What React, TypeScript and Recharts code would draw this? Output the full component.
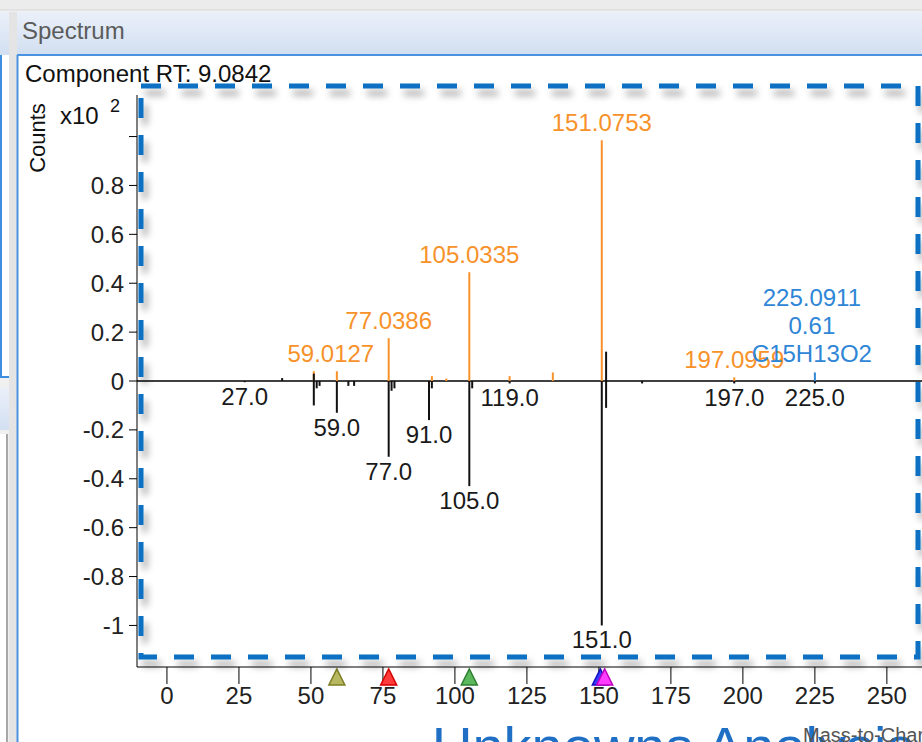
import { ComposedChart, XAxis, YAxis, ReferenceLine, ReferenceDot, Scatter } from 'recharts';

const xTicks = [0, 25, 50, 75, 100, 125, 150, 175, 200, 225, 250];
const yTicks = [-1, -0.8, -0.6, -0.4, -0.2, 0, 0.2, 0.4, 0.6, 0.8, 1];

// acquired spectrum (orange, above zero)
const sampleMz = [51, 59, 77, 92, 97, 105, 119, 134, 151, 197];
const sampleCounts = [0.04, 0.04, 0.175, 0.02, 0.01, 0.445, 0.02, 0.035, 0.985, 0.015];

// molecular ion (blue)
const ionMz = [225];
const ionCounts = [0.035];
const ionText = ['225.0911', '0.61', 'C15H13O2'];

// library spectrum (black, mirrored)
const libMz = [27, 40, 51, 51, 52, 53, 59, 63, 65, 77, 78, 79, 91, 92, 105, 106, 119, 151, 152, 152, 165, 197, 225];
const libCounts = [-0.005, 0.012, -0.1, 0.03, -0.03, -0.02, -0.13, -0.02, -0.02, -0.31, -0.04, -0.03, -0.16, -0.03, -0.43, -0.03, -0.01, -1.0, 0.12, -0.11, -0.01, -0.01, -0.01];

const topLabelMz = [59, 77, 105, 151, 197];
const topLabelCounts = [0.04, 0.175, 0.445, 0.985, 0.015];
const topLabelText = ['59.0127', '77.0386', '105.0335', '151.0753', '197.0959'];

const bottomLabelMz = [27, 59, 77, 91, 105, 119, 151, 197, 225];
const bottomLabelCounts = [-0.005, -0.13, -0.31, -0.16, -0.43, -0.01, -1.0, -0.01, -0.01];
const bottomLabelText = ['27.0', '59.0', '77.0', '91.0', '105.0', '119.0', '151.0', '197.0', '225.0'];

// precursor markers under the axis
const markerMz = [59, 77, 105, 150.5, 152];
const MARKER_FILL = ['#b8b860', '#ff3b3b', '#5cb85c', '#3a3aff', '#ff3cff'];
const MARKER_STROKE = ['#7d7d25', '#d40000', '#2e7d32', '#1010c0', '#c000c0'];

const ORANGE = '#f7922a';
const BLUE = '#2f86d6';
const FONT = '"Liberation Sans", Arial, sans-serif';

const tips = sampleMz.map((mz, i) => ({ mz, counts: sampleCounts[i] }));

const fmtY = (v: number) => (v === 1 ? '' : v === 0 ? '0' : v === -1 ? '-1' : v.toFixed(1));

export default function App() {
  return (
    <div style={{ position: 'absolute', left: 0, top: 0, width: 922, height: 742, overflow: 'hidden', background: '#f0f0f0', fontFamily: FONT }}>
      <svg width={922} height={742} style={{ position: 'absolute', left: 0, top: 0 }}>
        <defs>
          <linearGradient id="hdr" x1="0" y1="0" x2="0" y2="1">
            <stop offset="0" stopColor="#eaf0f9" />
            <stop offset="1" stopColor="#d2dff1" />
          </linearGradient>
        </defs>
        <rect x={0} y={0} width={922} height={10} fill="#ececec" />
        <line x1={0} y1={10} x2={922} y2={10} stroke="#d8d8d8" />
        {/* left panel */}
        <rect x={0} y={12} width={9} height={43} fill="url(#hdr)" />
        <rect x={0} y={55} width={9} height={322} fill="#fff" />
        <line x1={1} y1={55} x2={1} y2={377} stroke="#3d8de0" strokeWidth={2} />
        <line x1={0} y1={377} x2={9} y2={377} stroke="#3d8de0" strokeWidth={2} />
        <rect x={0} y={388} width={9} height={42} fill="url(#hdr)" />
        <rect x={0} y={434} width={8} height={308} fill="#fff" />
        <line x1={7} y1={434} x2={7} y2={742} stroke="#8a8a8a" strokeWidth={1.5} />
        {/* splitter */}
        <rect x={9} y={12} width={8} height={730} fill="#e4e4e4" />
        {/* main panel */}
        <rect x={17} y={12} width={905} height={42} fill="url(#hdr)" />
        <text x={22} y={39} fontSize={24} fill="#5b5b5b" fontFamily={FONT}>Spectrum</text>
        <rect x={18} y={56} width={904} height={686} fill="#fff" />
        <line x1={17} y1={55} x2={922} y2={55} stroke="#4a92e2" strokeWidth={2} />
        <line x1={17.5} y1={55} x2={17.5} y2={742} stroke="#4a92e2" strokeWidth={2} />
        <text x={25} y={82} fontSize={24} fill="#111" fontFamily={FONT}>Component RT: 9.0842</text>
        <text x={60} y={124} fontSize={24} fill="#111" fontFamily={FONT}>x10</text>
        <text x={110} y={112} fontSize={18} fill="#111" fontFamily={FONT}>2</text>
        <text transform="translate(45,138) rotate(-90)" textAnchor="middle" fontSize={22} fill="#111" fontFamily={FONT}>Counts</text>
      </svg>

      <div style={{ position: 'absolute', left: 0, top: 0 }}>
        <ComposedChart width={922} height={742} data={tips} margin={{ top: 95, right: 0, bottom: 0, left: 77 }}>
          <XAxis
            type="number"
            dataKey="mz"
            domain={[-10.4, 262.2]}
            allowDataOverflow
            ticks={xTicks}
            interval={0}
            height={75}
            tickSize={17}
            tickMargin={3}
            stroke="#000"
            tick={{ fill: '#222', fontSize: 24, fontFamily: FONT }}
          />
          <YAxis
            type="number"
            domain={[-1.17, 1.17]}
            allowDataOverflow
            ticks={yTicks}
            interval={0}
            width={60}
            tickSize={8}
            tickMargin={5}
            tickFormatter={fmtY}
            stroke="#000"
            tick={{ fill: '#222', fontSize: 24, fontFamily: FONT }}
          />
          <ReferenceLine y={0} stroke="#000" strokeWidth={1.5} />
          {sampleMz.map((mz, i) => (
            <ReferenceLine key={'s' + i} segment={[{ x: mz, y: 0 }, { x: mz, y: sampleCounts[i] }]} stroke={ORANGE} strokeWidth={2} />
          ))}
          {ionMz.map((mz, i) => (
            <ReferenceLine key={'b' + i} segment={[{ x: mz, y: 0 }, { x: mz, y: ionCounts[i] }]} stroke={BLUE} strokeWidth={2} />
          ))}
          {libMz.map((mz, i) => (
            <ReferenceLine key={'l' + i} segment={[{ x: mz + (i === 18 || i === 19 ? 0.5 : 0), y: 0 }, { x: mz + (i === 18 || i === 19 ? 0.5 : 0), y: libCounts[i] }]} stroke="#111" strokeWidth={2} />
          ))}
          {topLabelMz.map((mz, i) => (
            <ReferenceDot
              key={'tl' + i}
              x={mz}
              y={topLabelCounts[i]}
              ifOverflow="visible"
              shape={(p: any) => (
                <text x={p.cx - (i === 0 ? 6 : 0)} y={p.cy - 9} textAnchor="middle" fontSize={24} fill={ORANGE} fontFamily={FONT}>{topLabelText[i]}</text>
              )}
            />
          ))}
          {ionMz.map((mz, i) => (
            <ReferenceDot
              key={'il' + i}
              x={mz}
              y={ionCounts[i]}
              ifOverflow="visible"
              shape={(p: any) => (
                <g>
                  {ionText.map((t, j) => (
                    <text key={j} x={p.cx - 3} y={p.cy - 10 - (ionText.length - 1 - j) * 28} textAnchor="middle" fontSize={24} fill={BLUE} fontFamily={FONT}>{t}</text>
                  ))}
                </g>
              )}
            />
          ))}
          {bottomLabelMz.map((mz, i) => (
            <ReferenceDot
              key={'bl' + i}
              x={mz}
              y={bottomLabelCounts[i]}
              ifOverflow="visible"
              shape={(p: any) => (
                <text x={p.cx} y={p.cy + 23} textAnchor="middle" fontSize={24} fill="#1a1a1a" fontFamily={FONT}>{bottomLabelText[i]}</text>
              )}
            />
          ))}
          {markerMz.map((mz, i) => (
            <ReferenceDot
              key={'m' + i}
              x={mz}
              y={-1.17}
              ifOverflow="visible"
              shape={(p: any) => (
                <polygon
                  points={`${p.cx - 8},${p.cy + 18} ${p.cx + 8},${p.cy + 18} ${p.cx},${p.cy + 2}`}
                  fill={MARKER_FILL[i]}
                  stroke={MARKER_STROKE[i]}
                  strokeWidth={1.5}
                />
              )}
            />
          ))}
          <Scatter dataKey="counts" isAnimationActive={false} shape={() => <g />} />
        </ComposedChart>
      </div>

      <svg width={922} height={742} style={{ position: 'absolute', left: 0, top: 0, pointerEvents: 'none' }}>
        <defs>
          <filter id="sh" x="-5%" y="-5%" width="110%" height="110%">
            <feDropShadow dx={4} dy={7} stdDeviation={3.5} floodColor="#000" floodOpacity={0.35} />
          </filter>
        </defs>
        <rect x={141} y={86} width={777} height={571} fill="none" stroke="#0a6fc2" strokeWidth={5} strokeDasharray="20 17" filter="url(#sh)" />
        <text x={432} y={766} fontSize={56} fill="#1f6fc5" fontFamily={FONT}>Unknowns Analysis</text>
        <text x={803} y={742} fontSize={20} fill="#555" fontFamily={FONT}>Mass-to-Charge</text>
      </svg>
    </div>
  );
}
